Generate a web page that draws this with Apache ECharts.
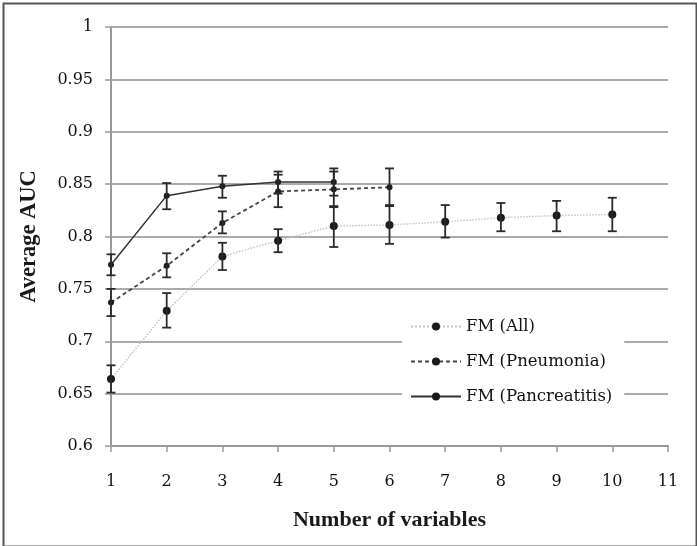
<!DOCTYPE html>
<html><head><meta charset="utf-8">
<script src="https://cdn.jsdelivr.net/npm/echarts@6/dist/echarts.min.js"></script>
<style>html,body{margin:0;padding:0;background:#fff}#c{width:697px;height:546px}</style>
</head><body><div id="c"></div>
<script>
// Data
const xTicks = [1,2,3,4,5,6,7,8,9,10,11];
const allX = [1,2,3,4,5,6,7,8,9,10];
const allMean = [0.664,0.729,0.781,0.796,0.810,0.811,0.814,0.818,0.820,0.821];
const allLow  = [0.651,0.713,0.768,0.785,0.790,0.793,0.799,0.805,0.805,0.805];
const allHigh = [0.677,0.746,0.794,0.807,0.829,0.829,0.830,0.832,0.834,0.837];

const pneX = [1,2,3,4,5,6];
const pneMean = [0.737,0.772,0.813,0.843,0.845,0.847];
const pneLow  = [0.724,0.761,0.803,0.828,0.828,0.830];
const pneHigh = [0.750,0.784,0.824,0.859,0.862,0.865];

const panX = [1,2,3,4,5];
const panMean = [0.773,0.839,0.848,0.852,0.852];
const panLow  = [0.763,0.826,0.837,0.841,0.839];
const panHigh = [0.783,0.851,0.858,0.862,0.865];

function pairs(xs, ys){ return xs.map((x,i)=>[x, ys[i]]); }
function errData(xs, lo, hi){ return xs.map((x,i)=>[x, lo[i], hi[i]]); }

function errRender(params, api){
  const x = api.value(0);
  const lo = api.coord([x, api.value(1)]);
  const hi = api.coord([x, api.value(2)]);
  const w = 4.5;
  const st = {stroke:'#2a2a2a', lineWidth:1.8};
  return {type:'group', children:[
    {type:'line', shape:{x1:lo[0],y1:lo[1],x2:hi[0],y2:hi[1]}, style:st},
    {type:'line', shape:{x1:lo[0]-w,y1:lo[1],x2:lo[0]+w,y2:lo[1]}, style:st},
    {type:'line', shape:{x1:hi[0]-w,y1:hi[1],x2:hi[0]+w,y2:hi[1]}, style:st}
  ]};
}

const serif = 'DejaVu Serif';
const chart = echarts.init(document.getElementById('c'), null, {renderer:'canvas'});
chart.setOption({
  backgroundColor:'#fff',
  animation:false,
  grid:{left:111, top:27, right:29, bottom:100, containLabel:false},
  xAxis:{
    type:'value', min:1, max:11, interval:1,
    name:'Number of variables', nameLocation:'middle', nameGap:63,
    nameTextStyle:{fontFamily:'Liberation Serif', fontWeight:'bold', fontSize:22, color:'#1a1a1a'},
    axisLine:{lineStyle:{color:'#999', width:2}},
    axisTick:{show:true, length:6, inside:false, lineStyle:{color:'#999', width:1.5}},
    axisLabel:{margin:28, fontFamily:serif, fontSize:16, color:'#111'},
    splitLine:{show:false}
  },
  yAxis:{
    type:'value', min:0.6, max:1, interval:0.05,
    name:'Average AUC', nameLocation:'middle', nameGap:70,
    nameTextStyle:{fontFamily:'Liberation Serif', fontWeight:'bold', fontSize:22.5, color:'#1a1a1a'},
    axisLine:{show:true, lineStyle:{color:'#999', width:2}},
    axisTick:{show:true, length:6, lineStyle:{color:'#999', width:1.5}},
    axisLabel:{margin:18, fontFamily:serif, fontSize:16, color:'#111',
      formatter:v=>{ const s = (+v.toFixed(2)).toString(); return s; }},
    splitLine:{show:true, lineStyle:{color:'#aaa', width:2}}
  },
  legend:{
    left:402, top:312, orient:'vertical',
    backgroundColor:'#fff', padding:[6,12,8,8],
    itemWidth:50, itemHeight:10, itemGap:18,
    textStyle:{fontFamily:serif, fontSize:16.5, color:'#111'},
    data:['FM (All)','FM (Pneumonia)','FM (Pancreatitis)']
  },
  series:[
    {type:'custom', name:'errAll', renderItem:errRender, data:errData(allX, allLow, allHigh), z:3, encode:{x:0,y:[1,2]}},
    {type:'custom', name:'errPne', renderItem:errRender, data:errData(pneX, pneLow, pneHigh), z:3, encode:{x:0,y:[1,2]}},
    {type:'custom', name:'errPan', renderItem:errRender, data:errData(panX, panLow, panHigh), z:3, encode:{x:0,y:[1,2]}},
    {type:'line', name:'FM (All)', data:pairs(allX, allMean), z:2,
      symbol:'circle', symbolSize:8, itemStyle:{color:'#1a1a1a'},
      lineStyle:{color:'#c4c4c4', width:1.5, type:'dotted'}},
    {type:'line', name:'FM (Pneumonia)', data:pairs(pneX, pneMean), z:2,
      symbol:'circle', symbolSize:6, itemStyle:{color:'#1a1a1a'},
      lineStyle:{color:'#444', width:1.8, type:[4,3]}},
    {type:'line', name:'FM (Pancreatitis)', data:pairs(panX, panMean), z:2,
      symbol:'circle', symbolSize:6, itemStyle:{color:'#1a1a1a'},
      lineStyle:{color:'#333', width:1.5, type:'solid'}}
  ],
  graphic:[
    {type:'rect', left:1, top:1, shape:{x:1, y:1, width:693, height:543}, z:100,
      style:{fill:'none', stroke:'#555', lineWidth:2}, silent:true}
  ]
});
</script></body></html>
